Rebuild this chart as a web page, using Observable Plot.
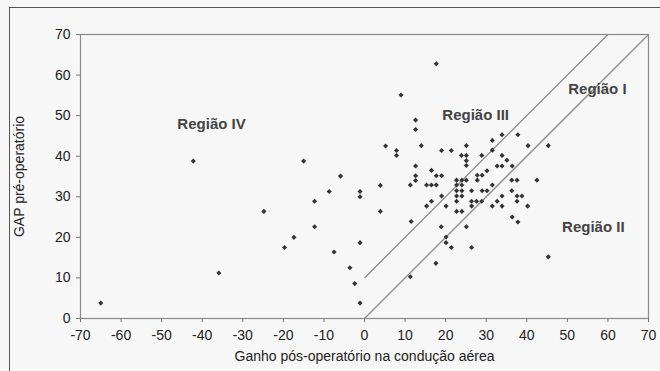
<!DOCTYPE html>
<html>
<head>
<meta charset="utf-8">
<script src="https://cdn.jsdelivr.net/npm/d3@7"></script>
<script src="https://cdn.jsdelivr.net/npm/@observablehq/plot@0.6"></script>
<style>
  html, body { margin: 0; padding: 0; background: #f7f7f7; }
  #wrap { position: relative; width: 660px; height: 371px; overflow: hidden; background: #f7f7f7; }
  #border { position: absolute; left: 9px; top: 7px; width: 700px; height: 420px; border: 1.5px solid #555; box-sizing: border-box; }
  #chart { position: absolute; left: 0; top: 0; }
</style>
</head>
<body>
<div id="wrap"><div id="border"></div><div id="chart"></div></div>
<script>
// Ganho pós-operatório (x) e GAP pré-operatório (y)
const gainX = [
  -65, -42.2, -35.9, -24.8, -19.7, -17.4, -15.0, -12.3, -12.3, -8.7,
  -7.5, -5.9, -3.6, -2.4, -1.1, -1.1, -1.1, -1.1,
  3.9, 3.9, 5.2, 7.9, 7.9, 9.0, 11.3, 11.5, 11.3, 12.6, 12.6, 12.6, 12.6, 12.6, 14.0,
  15.3, 16.5, 17.7, 16.5, 17.7, 19.0, 17.7, 19.0, 21.4, 19.0, 16.5, 15.3, 20.1, 22.7,
  22.7, 24.0, 22.7, 24.0, 22.7, 24.0, 22.7, 24.0, 22.7, 24.0, 18.9, 20.1, 20.1, 21.4, 17.6,
  23.9, 25.1, 25.1, 25.1, 25.1, 25.1, 25.1, 26.4, 26.4, 26.4, 27.6, 28.9, 26.4,
  27.8, 29.0, 27.8, 29.0, 30.2, 30.2, 28.9, 31.5, 31.5, 31.5, 31.5, 32.7, 32.7, 33.9,
  33.9, 33.9, 33.9, 33.9, 35.1, 36.4, 36.3, 37.6, 36.3, 37.6, 38.8, 37.6, 37.8,
  40.3, 45.3, 42.5, 40.2, 36.4, 37.8, 45.3
];
const gapY = [
  3.8, 38.8, 11.2, 26.4, 17.5, 20.0, 38.8, 28.9, 22.6, 31.3,
  16.4, 35.1, 12.5, 8.6, 31.3, 30.0, 18.7, 3.8,
  32.8, 26.4, 42.5, 41.4, 40.2, 55.1, 32.9, 23.9, 10.3, 48.9, 46.6, 37.6, 35.2, 34.0, 42.6,
  32.9, 32.9, 32.9, 36.5, 35.2, 35.2, 62.8, 41.4, 41.4, 30.2, 28.9, 27.7, 27.7, 28.9,
  34.1, 34.1, 32.9, 32.9, 31.5, 31.5, 30.2, 30.2, 26.4, 26.4, 22.6, 20.1, 18.7, 17.5, 13.6,
  40.2, 40.2, 42.6, 38.9, 37.7, 34.1, 22.6, 17.5, 31.5, 28.9, 28.9, 28.9, 27.7,
  35.3, 35.3, 34.1, 31.5, 31.5, 36.4, 40.2, 43.9, 41.5, 32.9, 27.7, 28.9, 37.6, 37.6,
  45.3, 40.2, 30.2, 27.7, 39.0, 37.6, 34.1, 34.1, 31.5, 30.2, 30.2, 28.9, 45.3,
  42.6, 42.6, 34.1, 27.7, 25.0, 23.8, 15.2
];

// Linhas de referência
const lineX1 = [0, 0];
const lineY1 = [10, 0];
const lineX2 = [60, 70];
const lineY2 = [70, 70];

// Rótulos das regiões
const regionNames = ["Região IV", "Região III", "Região I", "Região II"];
const regionX = [-37.7, 27.4, 57.4, 56.4];
const regionY = [48.0, 50.0, 56.4, 22.4];

const xTicks = [-70, -60, -50, -40, -30, -20, -10, 0, 10, 20, 30, 40, 50, 60, 70];
const yTicks = [0, 10, 20, 30, 40, 50, 60, 70];

const points = gainX.map((x, i) => ({x, y: gapY[i]}));
const refLines = lineX1.map((x1, i) => ({x1, y1: lineY1[i], x2: lineX2[i], y2: lineY2[i]}));
const regions = regionNames.map((name, i) => ({name, x: regionX[i], y: regionY[i]}));

const chart = Plot.plot({
  width: 660,
  height: 371,
  marginLeft: 80,
  marginRight: 12,
  marginTop: 34,
  marginBottom: 53,
  style: {fontFamily: "'Liberation Sans', Arial, sans-serif", fontSize: "14px", background: "transparent", color: "#222"},
  x: {domain: [-70, 70]},
  y: {domain: [0, 70]},
  marks: [
    Plot.frame({stroke: "#8a8a8a", strokeWidth: 1.2}),
    Plot.axisX({ticks: xTicks, tickSize: 4, tickPadding: 8, tickFormat: d => String(d).replace("−", "-"),
      label: "Ganho pós-operatório na condução aérea", labelAnchor: "center", labelArrow: "none", labelOffset: 42, fontSize: 14, stroke: "#777"}),
    Plot.axisY({ticks: yTicks, tickSize: 4, tickPadding: 6,
      label: "GAP pré-operatório", labelAnchor: "center", labelArrow: "none", labelOffset: 66, fontSize: 14, stroke: "#777"}),
    Plot.link(refLines, {x1: "x1", y1: "y1", x2: "x2", y2: "y2", stroke: "#8c8c8c", strokeWidth: 1.3}),
    Plot.dot(points, {x: "x", y: "y", symbol: "diamond2", r: 2.3, fill: "#333", stroke: "none"}),
    Plot.text(regions, {x: "x", y: "y", text: "name", fontWeight: "bold", fontSize: 15, fill: "#444"})
  ]
});
document.getElementById("chart").appendChild(chart);
</script>
</body>
</html>
